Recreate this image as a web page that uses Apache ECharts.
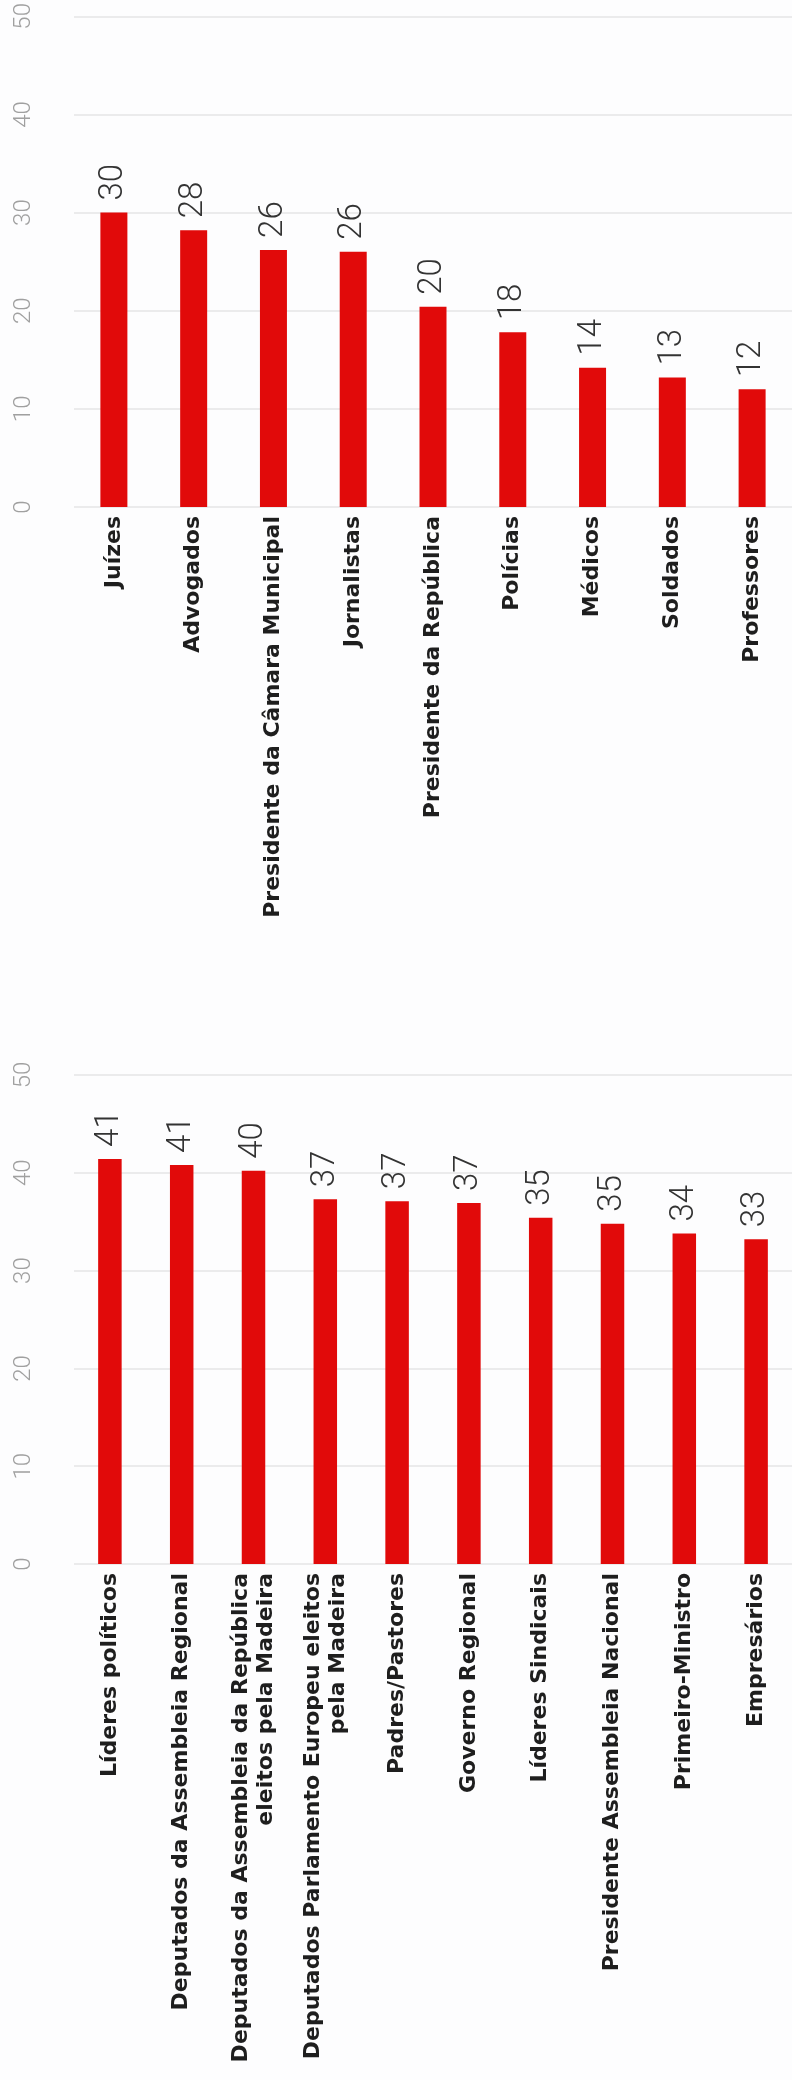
<!DOCTYPE html>
<html>
<head>
<meta charset="utf-8">
<script src="https://cdn.jsdelivr.net/npm/echarts@6/dist/echarts.min.js"></script>
<style>
  html, body { margin: 0; padding: 0; background: #fdfdfe; }
  #chart { width: 792px; height: 2080px; }
</style>
</head>
<body>
<div id="chart"></div>
<script>
// ---- Data ----
const topCategories = ['Juízes', 'Advogados', 'Presidente da Câmara Municipal', 'Jornalistas',
  'Presidente da República', 'Polícias', 'Médicos', 'Soldados', 'Professores'];
const topValues = [30.0, 28.2, 26.2, 26.0, 20.4, 17.8, 14.2, 13.2, 12.0];

const bottomCategories = ['Líderes políticos', 'Deputados da Assembleia Regional',
  'Deputados da Assembleia da República\neleitos pela Madeira',
  'Deputados Parlamento Europeu eleitos\npela Madeira',
  'Padres/Pastores', 'Governo Regional', 'Líderes Sindicais',
  'Presidente Assembleia Nacional', 'Primeiro-Ministro', 'Empresários'];
const bottomValues = [41.4, 40.8, 40.2, 37.3, 37.1, 36.9, 35.4, 34.8, 33.8, 33.2];

const valueTicks = [0, 10, 20, 30, 40, 50];

// ---- Styles ----
const RED = '#e10a0a';
const catLabel = {
  rotate: 90, margin: 9, color: '#1e1e1e', fontSize: 22, fontWeight: 'bold',
  fontFamily: 'DejaVu Sans', lineHeight: 25, interval: 0
};
const valLabel = {
  rotate: 90, margin: 38, color: '#a0a0a0', fontSize: 24, fontWeight: 300,
  fontFamily: 'Roboto',
  formatter: v => (valueTicks.indexOf(v) >= 0 ? String(v) : '')
};
function barLabel() {
  return {
    show: true, position: 'top', distance: 12, rotate: 90, align: 'left', verticalAlign: 'middle',
    color: '#333', fontSize: 33, fontWeight: 300, fontFamily: 'Roboto',
    formatter: p => String(Math.round(p.value))
  };
}

const chart = echarts.init(document.getElementById('chart'), null, { renderer: 'canvas' });
chart.setOption({
  backgroundColor: '#fdfdfe',
  animation: false,
  grid: [
    { left: 74, top: 16, width: 739, height: 491 },
    { left: 74, top: 1075, width: 738, height: 489 }
  ],
  xAxis: [
    { type: 'category', gridIndex: 0, data: topCategories,
      axisLine: { show: false }, axisTick: { show: false }, axisLabel: catLabel },
    { type: 'category', gridIndex: 1, data: bottomCategories,
      axisLine: { show: false }, axisTick: { show: false }, axisLabel: catLabel }
  ],
  yAxis: [
    { type: 'value', gridIndex: 0, min: 0, max: 50, interval: 10,
      axisLabel: valLabel, axisLine: { show: false }, axisTick: { show: false },
      splitLine: { lineStyle: { color: '#e4e4e6', width: 1.5 } } },
    { type: 'value', gridIndex: 1, min: 0, max: 50, interval: 10,
      axisLabel: valLabel, axisLine: { show: false }, axisTick: { show: false },
      splitLine: { lineStyle: { color: '#e4e4e6', width: 1.5 } } }
  ],
  series: [
    { type: 'bar', xAxisIndex: 0, yAxisIndex: 0, data: topValues, barWidth: 27,
      itemStyle: { color: RED }, label: barLabel() },
    { type: 'bar', xAxisIndex: 1, yAxisIndex: 1, data: bottomValues, barWidth: 23.5,
      itemStyle: { color: RED }, label: barLabel() }
  ]
});
</script>
</body>
</html>
